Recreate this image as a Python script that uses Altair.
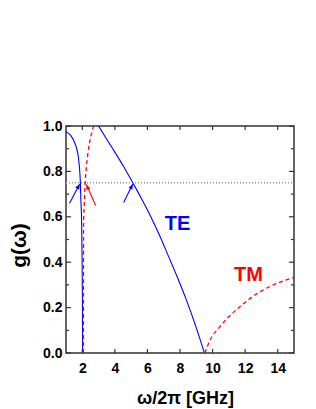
import math
import altair as alt
import pandas as pd

# ---- data ----
te1_x = [1.0, 1.2, 1.36, 1.5, 1.63, 1.77, 1.88, 1.91, 1.96, 1.99, 2.01, 2.02]
te1_y = [0.975, 0.965, 0.951, 0.932, 0.907, 0.856, 0.753, 0.68, 0.577, 0.4, 0.2, 0.0]

tm1_x = [2.07, 2.075, 2.08, 2.12, 2.18, 2.25, 2.33, 2.49, 2.6, 2.70]
tm1_y = [0.0, 0.3, 0.577, 0.65, 0.753, 0.82, 0.871, 0.944, 0.975, 1.0]

te2_x = [3.0, 3.48, 4.0, 4.5, 5.1, 5.6, 6.14, 6.7, 7.27, 7.8, 8.4, 8.95, 9.5]
te2_y = [1.0, 0.944, 0.885, 0.826, 0.75, 0.685, 0.61, 0.525, 0.43, 0.34, 0.232, 0.122, 0.0]

tm2_x = [9.53, 9.8, 10.45, 11.0, 11.68, 12.4, 13.11, 14.0, 14.96]
tm2_y = [0.0, 0.05, 0.116, 0.16, 0.204, 0.245, 0.278, 0.308, 0.332]

ref_x = [1.0, 15.0]
ref_y = [0.75, 0.75]

arrow_tail_x = [1.22, 2.82, 4.54]
arrow_tail_y = [0.66, 0.65, 0.663]
arrow_head_x = [1.84, 2.25, 5.10]
arrow_head_y = [0.745, 0.742, 0.745]
arrow_color = ["#0000ff", "#ff0000", "#0000ff"]

label_text = ["TE", "TM"]
label_x = [7.85, 12.2]
label_y = [0.567, 0.345]
label_color = ["#0000ff", "#ff0000"]

x_ticks = [2, 4, 6, 8, 10, 12, 14]
y_ticks = [0.0, 0.2, 0.4, 0.6, 0.8, 1.0]
y_minor = [0.1, 0.3, 0.5, 0.7, 0.9]

# ---- layout / style ----
W, H = 228, 227
XDOM = [1, 15]
YDOM = [0, 1]
FONT = "Liberation Sans"
AX = "#333333"

xs = alt.Scale(domain=XDOM, nice=False, zero=False)
ys = alt.Scale(domain=YDOM, nice=False, zero=False)

xaxis = alt.Axis(
    values=x_ticks, format="d", ticks=False, domain=False, grid=False,
    labelFont=FONT, labelFontSize=14, labelFontWeight="bold", labelColor="black",
    labelPadding=8, labelFlush=False,
    title="ω/2π [GHz]", titleFont=FONT, titleFontSize=18, titleFontWeight="bold",
    titleColor="black", titleX=119, titleY=50, titleBaseline="alphabetic",
)
yaxis = alt.Axis(
    values=y_ticks, format=".1f", ticks=False, domain=False, grid=False,
    labelFont=FONT, labelFontSize=14, labelFontWeight="bold", labelColor="black",
    labelPadding=4, labelFlush=False,
    title="g(ω)", titleFont=FONT, titleFontSize=21, titleFontWeight="bold",
    titleColor="black", titleX=-41, titleY=119, titleAngle=-90,
    titleBaseline="alphabetic", titleAlign="center",
)


def X(field="x"):
    return alt.X(f"{field}:Q", scale=xs, axis=xaxis)


def Y(field="y"):
    return alt.Y(f"{field}:Q", scale=ys, axis=yaxis)


def curve(xv, yv, color, width, dash=None):
    df = pd.DataFrame({"x": xv, "y": yv, "i": list(range(len(xv)))})
    kw = dict(color=color, strokeWidth=width, clip=True, interpolate="monotone")
    if dash:
        kw["strokeDash"] = dash
    return alt.Chart(df).mark_line(**kw).encode(x=X(), y=Y(), order=alt.Order("i:Q"))


ref_df = pd.DataFrame({"x": ref_x, "y": ref_y})
base = alt.Chart(ref_df).mark_line(color="#999999", strokeWidth=1.5, strokeDash=[1, 2]).encode(
    x=X(), y=Y()
)

te1 = curve(te1_x, te1_y, "#0000ff", 1.1)
te2 = curve(te2_x, te2_y, "#0000ff", 1.1)
tm1 = curve(tm1_x, tm1_y, "#ff0000", 1.3, [4, 3])
tm2 = curve(tm2_x, tm2_y, "#ff0000", 1.3, [4, 3])

# arrows
px_x = W / (XDOM[1] - XDOM[0])
px_y = H / (YDOM[1] - YDOM[0])
angles = []
for tx, ty, hx, hy in zip(arrow_tail_x, arrow_tail_y, arrow_head_x, arrow_head_y):
    dx = (hx - tx) * px_x
    dy = (hy - ty) * px_y
    angles.append(math.degrees(math.atan2(dx, dy)) % 360)
arr_df = pd.DataFrame({
    "x": arrow_tail_x, "y": arrow_tail_y, "x2": arrow_head_x, "y2": arrow_head_y,
    "c": arrow_color, "a": angles,
})
shafts = alt.Chart(arr_df).mark_rule(strokeWidth=1.1).encode(
    x=X(), y=Y(), x2="x2:Q", y2="y2:Q", color=alt.Color("c:N", scale=None)
)
heads = alt.Chart(arr_df).mark_point(
    shape="M0,0 L-0.42,1 L0.42,1 Z", filled=True, opacity=1, size=110, strokeWidth=0
).encode(
    x=X("x2"), y=Y("y2"),
    color=alt.Color("c:N", scale=None), angle=alt.Angle("a:Q", scale=None),
)

lab_df = pd.DataFrame({"t": label_text, "x": label_x, "y": label_y, "c": label_color})
labels = alt.Chart(lab_df).mark_text(
    font=FONT, fontSize=20, fontWeight="bold", align="center", baseline="middle"
).encode(x=X(), y=Y(), text="t:N", color=alt.Color("c:N", scale=None))

# inward ticks
xt = pd.DataFrame({"x": x_ticks})
yt = pd.DataFrame({"y": y_ticks})
ym = pd.DataFrame({"y": y_minor})
tb = alt.Chart(xt).mark_rule(color=AX, strokeWidth=1.2).encode(x=X(), y=alt.value(H), y2=alt.value(H - 4))
tt = alt.Chart(xt).mark_rule(color=AX, strokeWidth=1.2).encode(x=X(), y=alt.value(0), y2=alt.value(4))
tl = alt.Chart(yt).mark_rule(color=AX, strokeWidth=1.2).encode(y=Y(), x=alt.value(0), x2=alt.value(5))
tr = alt.Chart(yt).mark_rule(color=AX, strokeWidth=1.2).encode(y=Y(), x=alt.value(W), x2=alt.value(W - 5))
tlm = alt.Chart(ym).mark_rule(color=AX, strokeWidth=1.2).encode(y=Y(), x=alt.value(0), x2=alt.value(3))
trm = alt.Chart(ym).mark_rule(color=AX, strokeWidth=1.2).encode(y=Y(), x=alt.value(W), x2=alt.value(W - 3))

chart = alt.layer(
    base, te1, te2, tm1, tm2, shafts, heads, labels, tb, tt, tl, tr, tlm, trm
).properties(
    width=W, height=H,
    padding={"left": 58, "top": 118, "right": 14, "bottom": 56},
    autosize=alt.AutoSizeParams(type="none"),
).configure_view(
    stroke=AX, strokeWidth=1.5
)

chart.save("out.html", embed_options={"renderer": "svg", "actions": False})
